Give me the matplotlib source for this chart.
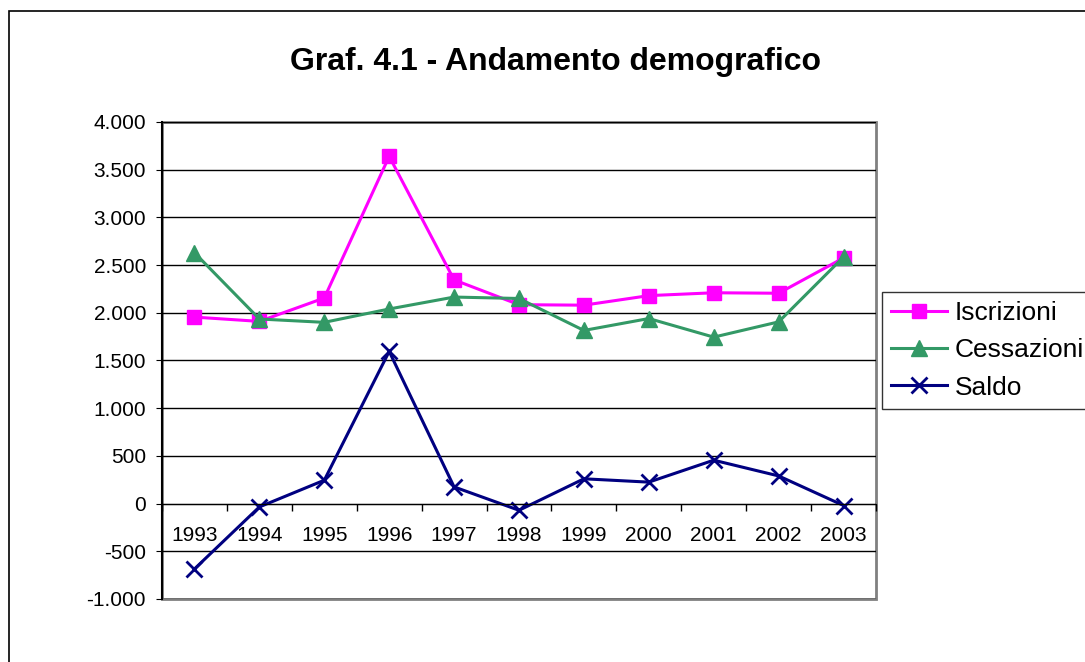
import matplotlib
matplotlib.use("Agg")
import matplotlib.pyplot as plt
from matplotlib.patches import Rectangle
from matplotlib.ticker import FuncFormatter
import numpy as np

anni = ["1993", "1994", "1995", "1996", "1997", "1998", "1999", "2000", "2001", "2002", "2003"]
iscrizioni = [1955, 1910, 2155, 3640, 2345, 2085, 2080, 2180, 2210, 2205, 2575]
cessazioni = [2630, 1935, 1900, 2040, 2165, 2150, 1815, 1940, 1745, 1905, 2585]
saldo = [-685, -35, 245, 1595, 175, -70, 260, 225, 455, 290, -20]

plt.rcParams['font.family'] = ['Liberation Sans', 'DejaVu Sans']

fig = plt.figure(figsize=(10.85, 6.62), dpi=100)
ax = fig.add_axes([162 / 1085, 1 - 599 / 662, 714 / 1085, 477 / 662])

x = np.arange(len(anni)) + 0.5
ax.plot(x, iscrizioni, color='#FF00FF', lw=2.2, marker='s', ms=10, label='Iscrizioni')
ax.plot(x, cessazioni, color='#339966', lw=2.2, marker='^', ms=11, label='Cessazioni')
ax.plot(x, saldo, color='#000080', lw=2.2, marker='x', ms=11, mew=2, label='Saldo')

ax.set_xlim(0, len(anni))
ax.set_ylim(-1000, 4000)
ax.set_yticks(np.arange(-1000, 4001, 500))
ax.yaxis.set_major_formatter(FuncFormatter(lambda v, p: f"{int(v):,}".replace(",", ".")))
ax.grid(axis='y', color='black', lw=1)
ax.set_axisbelow(True)
ax.tick_params(axis='y', labelsize=15, direction='out', length=4, pad=7.5)

# category axis crossing at zero
ax.spines['bottom'].set_position(('data', 0))
ax.spines['bottom'].set_color('black')
ax.set_xticks(np.arange(len(anni) + 1))
ax.set_xticklabels([])
ax.set_xticks(x, minor=True)
ax.set_xticklabels(anni, minor=True)
ax.tick_params(axis='x', which='major', direction='out', length=5, width=1)
ax.tick_params(axis='x', which='minor', length=0, labelsize=15, pad=16)

for s in ['top', 'right']:
    ax.spines[s].set_visible(False)
ax.spines['left'].set_color('black')
ax.spines['left'].set_linewidth(1.5)
ax.add_patch(Rectangle((0, 0), 1, 1, transform=ax.transAxes, fill=False,
                       edgecolor='#808080', lw=2, clip_on=False, zorder=0))

fig.text(555 / 1085, 1 - 62 / 662, "Graf. 4.1 - Andamento demografico",
         ha='center', va='center', fontsize=23, fontweight='bold')

leg = fig.legend(loc='upper left', bbox_to_anchor=(882 / 1085, 1 - 292 / 662),
                 fontsize=19, frameon=True, fancybox=False, borderpad=0.35,
                 handlelength=2.1, handletextpad=0.3, labelspacing=0.5,
                 borderaxespad=0)
leg.get_frame().set_edgecolor('black')
leg.get_frame().set_linewidth(1)

# outer chart border
fig.patches.append(Rectangle((9 / 1085, -0.5), 2, 1.5 - 11 / 662, transform=fig.transFigure,
                             fill=False, edgecolor='black', lw=1.2, figure=fig))

fig.savefig("out.png", dpi=100)
